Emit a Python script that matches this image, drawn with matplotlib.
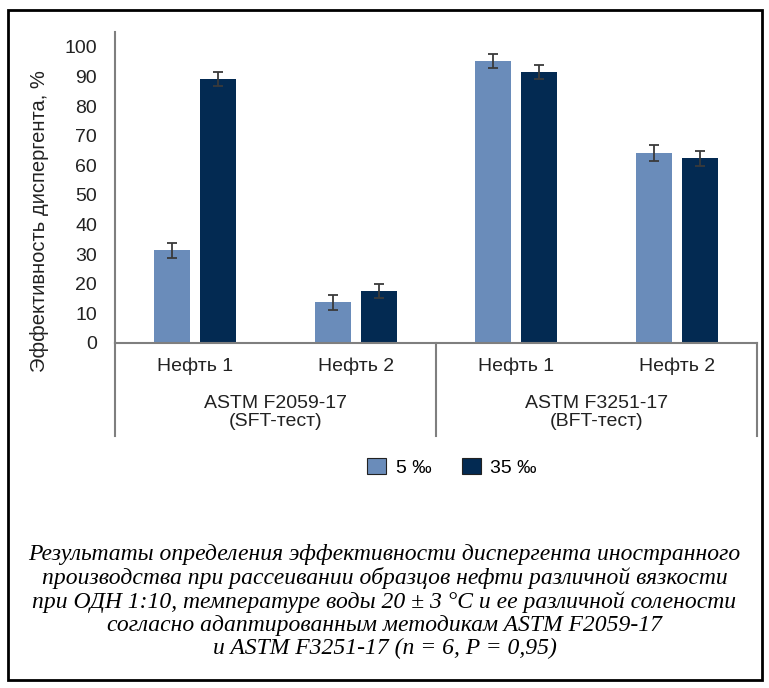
import numpy as np
import matplotlib.pyplot as plt
from matplotlib.patches import Rectangle

oils = ['Нефть 1', 'Нефть 2', 'Нефть 1', 'Нефть 2']
methods = ['ASTM F2059-17\n(SFT-тест)', 'ASTM F3251-17\n(BFT-тест)']
low = [31.3, 13.8, 95.2, 64.2]      # 5 ‰
high = [89.2, 17.5, 91.5, 62.3]     # 35 ‰
low_err = [2.5, 2.5, 2.5, 2.6]
high_err = [2.4, 2.4, 2.4, 2.4]
series = ['5 ‰', '35 ‰']
caption = ('Результаты определения эффективности диспергента иностранного\n'
           'производства при рассеивании образцов нефти различной вязкости\n'
           'при ОДН 1:10, температуре воды 20 ± 3 °С и ее различной солености\n'
           'согласно адаптированным методикам ASTM F2059-17\n'
           'и ASTM F3251-17 (n = 6, P = 0,95)')

plt.rcParams['font.family'] = ['Liberation Sans', 'DejaVu Sans']
c_low = '#6a8cba'
c_high = '#032a52'
gray = '#7f7f7f'
fs = 14

fig = plt.figure(figsize=(7.69, 6.88), dpi=100)
ax = fig.add_axes([0.1495, 0.5015, 0.835, 0.452])

x = np.arange(len(oils))
w = 0.225
off = 0.143
ekw = dict(ecolor='#3a3a3a', elinewidth=1.3, capsize=3.5, capthick=1.3)
ax.bar(x - off, low, w, color=c_low, yerr=low_err, error_kw=ekw, label=series[0])
ax.bar(x + off, high, w, color=c_high, yerr=high_err, error_kw=ekw, label=series[1])

ax.set_xlim(-0.5, len(oils) - 0.5)
ax.set_ylim(0, 105)
ax.set_yticks(np.arange(0, 101, 10))
ax.tick_params(axis='y', length=0, labelsize=fs, pad=13, colors='#222222')
ax.set_xticks([])
for s in ['top', 'right']:
    ax.spines[s].set_visible(False)
for s in ['left', 'bottom']:
    ax.spines[s].set_color(gray)
    ax.spines[s].set_linewidth(1.5)
ax.text(-0.117, 0.392, 'Эффективность диспергента, %', transform=ax.transAxes,
        rotation=90, ha='center', va='center', fontsize=14.5, color='#222222')

# category labels and group separators below the axis
xt = ax.get_xaxis_transform()
for i, lab in enumerate(oils):
    ax.text(i, -0.075, lab, transform=xt, ha='center', va='center', fontsize=fs, color='#222222')
for j, lab in enumerate(methods):
    ax.text(2 * j + 0.5, -0.225, lab, transform=xt, ha='center', va='center', fontsize=fs,
            color='#222222', linespacing=1.08)
for xs in [-0.5, 1.5, 3.5]:
    ax.plot([xs, xs], [0, -0.3], transform=xt, color=gray, lw=1.5, clip_on=False)

leg = fig.legend(loc='center', bbox_to_anchor=(0.588, 0.321), ncol=2, frameon=False,
                 fontsize=fs, handlelength=0.95, handleheight=0.95, columnspacing=1.6,
                 handletextpad=0.5)
for h in leg.legend_handles:
    h.set_edgecolor('#222222')
    h.set_linewidth(0.8)

fig.text(0.5, 0.1257, caption, ha='center', va='center', fontsize=17,
         family='Liberation Serif', style='italic', linespacing=1.12)

fig.patches.append(Rectangle((0.011, 0.011), 0.98, 0.974, transform=fig.transFigure,
                             fill=False, edgecolor='black', lw=2))

fig.savefig('out.png', dpi=100)
